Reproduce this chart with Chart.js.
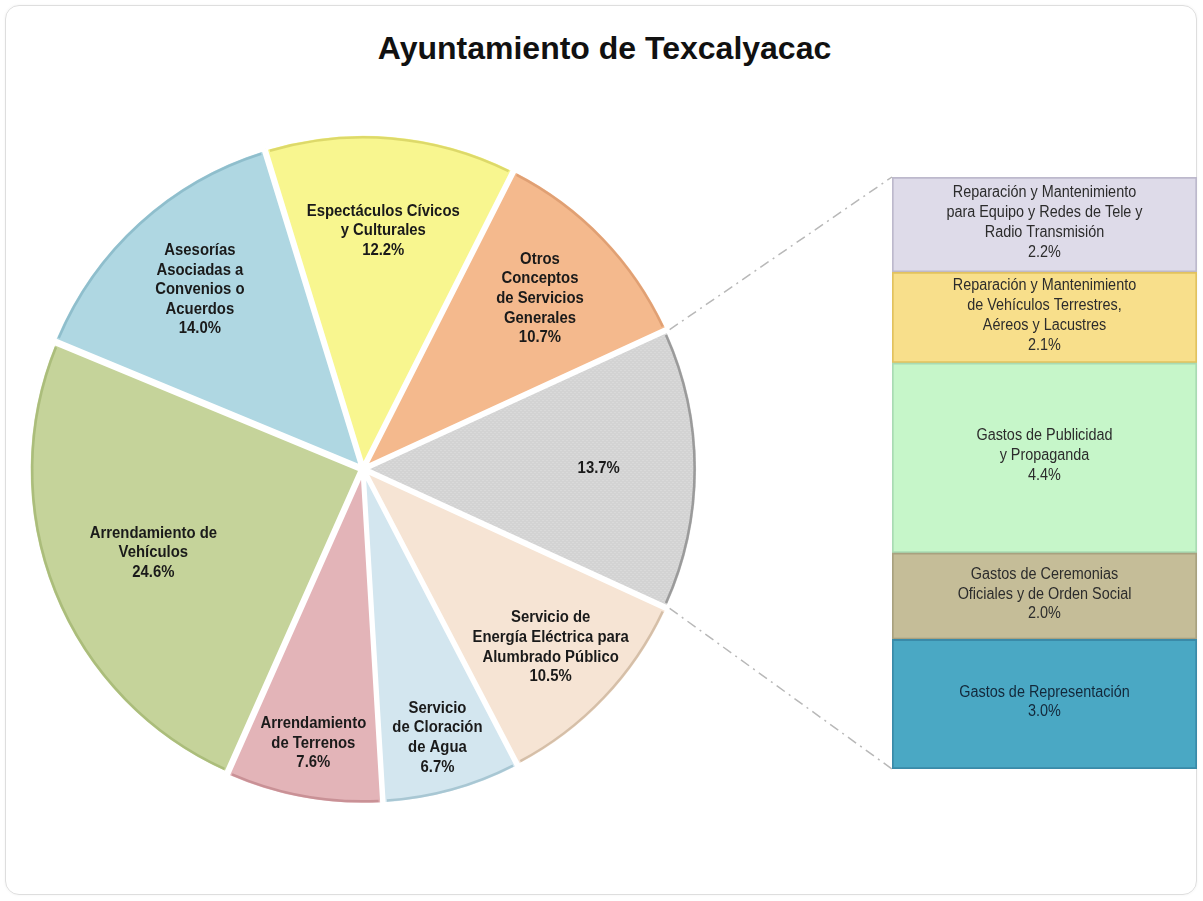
<!DOCTYPE html>
<html>
<head>
<meta charset="utf-8">
<script src="https://cdn.jsdelivr.net/npm/chart.js@4/dist/chart.umd.min.js"></script>
<style>
  html, body { margin:0; padding:0; background:#fff; width:1203px; height:901px; overflow:hidden; }
  #frame { position:absolute; left:5px; top:5px; width:1190px; height:888px; border:1px solid #dedede; border-radius:14px; box-shadow:0 0 3px rgba(0,0,0,0.05); }
  #title { position:absolute; left:0; top:30px; width:1209px; text-align:center; font-family:'Liberation Sans', Arial, sans-serif; font-weight:bold; font-size:32px; color:#111; }
  #pieWrap { position:absolute; left:0; top:0; width:1203px; height:901px; }
  #barWrap { position:absolute; left:892px; top:177px; width:305px; height:592px; }
  #overlay { position:absolute; left:0; top:0; width:1203px; height:901px; pointer-events:none; }
</style>
</head>
<body>
<div id="frame"></div>
<div id="title">Ayuntamiento de Texcalyacac</div>
<div id="pieWrap"><canvas id="pie"></canvas></div>
<div id="barWrap"><canvas id="bar"></canvas></div>
<canvas id="overlay" width="1203" height="901"></canvas>
<script>
// ---------------- DATA ----------------
const pieNames = [
  [],
  ['Servicio de', 'Energía Eléctrica para', 'Alumbrado Público'],
  ['Servicio', 'de Cloración', 'de Agua'],
  ['Arrendamiento', 'de Terrenos'],
  ['Arrendamiento de', 'Vehículos'],
  ['Asesorías', 'Asociadas a', 'Convenios o', 'Acuerdos'],
  ['Espectáculos Cívicos', 'y Culturales'],
  ['Otros', 'Conceptos', 'de Servicios', 'Generales']
];
const pieValues = [13.7, 10.5, 6.7, 7.6, 24.6, 14.0, 12.2, 10.7];

// bar of pie: listed from top to bottom
const barNames = [
  ['Reparación y Mantenimiento', 'para Equipo y Redes de Tele y', 'Radio Transmisión'],
  ['Reparación y Mantenimiento', 'de Vehículos Terrestres,', 'Aéreos y Lacustres'],
  ['Gastos de Publicidad', 'y Propaganda'],
  ['Gastos de Ceremonias', 'Oficiales y de Orden Social'],
  ['Gastos de Representación']
];
const barValues = [2.2, 2.1, 4.4, 2.0, 3.0];

// ---------------- STYLE ----------------
const pieColors = ['#d5d5d5', '#f6e4d4', '#d3e6ef', '#e3b4b8', '#c5d39a', '#afd7e2', '#f8f68f', '#f4b98d'];
const pieRims   = ['rgba(140,140,140,0.8)', 'rgba(200,175,150,0.7)', 'rgba(150,185,200,0.7)', 'rgba(190,130,135,0.7)',
                   'rgba(160,180,110,0.7)', 'rgba(130,180,195,0.7)', 'rgba(210,205,90,0.7)', 'rgba(215,150,105,0.7)'];
const labelFrac = [0.71, 0.78, 0.84, 0.84, 0.68, 0.73, 0.72, 0.74];
const barColors = ['#dedbe9', '#f8df8b', '#c6f6c9', '#c5bd98', '#4aa8c4'];
const barBorders = ['#bdb9cc', '#e2c25e', '#a9dbb3', '#a8a17f', '#3a8aa8'];
const barTextColors = ['#2c2c2c', '#2c2c2c', '#2c2c2c', '#2c2c2c', '#13283a'];
const sans = "'Liberation Sans', Arial, sans-serif";

function dotPattern(base, dot) {
  const c = document.createElement('canvas');
  c.width = 4; c.height = 4;
  const g = c.getContext('2d');
  g.fillStyle = base; g.fillRect(0, 0, 4, 4);
  g.fillStyle = dot; g.fillRect(0, 0, 1, 1); g.fillRect(2, 2, 1, 1);
  return g.createPattern(c, 'repeat');
}
const pieFill = pieColors.map((c, i) => i === 0 ? dotPattern('#d3d3d3', '#e2e2e2') : c);

const OFFSET = 10;
function arcShift(el) {
  const off = OFFSET / 4;
  const circ = el.endAngle - el.startAngle;
  const fix = 1 - Math.sin(Math.min(Math.PI, circ));
  return off * (1 + fix);
}

function drawCondensed(ctx, text, x, y, sx) {
  ctx.save();
  ctx.translate(x, y);
  ctx.scale(sx, 1);
  ctx.fillText(text, 0, 0);
  ctx.restore();
}

const rimPlugin = {
  id: 'rim',
  afterDatasetsDraw(chart) {
    const ctx = chart.ctx;
    chart.getDatasetMeta(0).data.forEach((el, i) => {
      const mid = (el.startAngle + el.endAngle) / 2;
      const s = arcShift(el);
      const cx = el.x + Math.cos(mid) * s, cy = el.y + Math.sin(mid) * s;
      ctx.save();
      ctx.strokeStyle = pieRims[i];
      ctx.lineWidth = 2.5;
      ctx.beginPath();
      ctx.arc(cx, cy, el.outerRadius - 3.5, el.startAngle + 0.01, el.endAngle - 0.01);
      ctx.stroke();
      ctx.restore();
    });
  }
};

const pieLabelPlugin = {
  id: 'pieLabels',
  afterDatasetsDraw(chart) {
    const ctx = chart.ctx;
    ctx.save();
    ctx.font = 'bold 16px ' + sans;
    ctx.fillStyle = '#1a1a1a';
    ctx.textAlign = 'center';
    ctx.textBaseline = 'middle';
    chart.getDatasetMeta(0).data.forEach((el, i) => {
      const mid = (el.startAngle + el.endAngle) / 2;
      const r = el.outerRadius * labelFrac[i];
      const x = el.x + Math.cos(mid) * r;
      const y = el.y + Math.sin(mid) * r;
      const lines = pieNames[i].concat([pieValues[i].toFixed(1) + '%']);
      const lh = 19.6;
      const y0 = y - (lines.length - 1) * lh / 2;
      lines.forEach((t, k) => drawCondensed(ctx, t, x, y0 + k * lh, 0.93));
    });
    ctx.restore();
  }
};

const pieChart = new Chart(document.getElementById('pie'), {
  type: 'pie',
  data: {
    labels: pieNames.map(n => n.join(' ')),
    datasets: [{
      data: pieValues,
      backgroundColor: pieFill,
      borderColor: '#ffffff',
      borderWidth: 4,
      offset: OFFSET
    }]
  },
  options: {
    responsive: true,
    maintainAspectRatio: false,
    animation: false,
    radius: 332,
    rotation: 90 - pieValues[0] * 3.6 / 2,
    layout: { padding: { left: 0, right: 1203 - 726, top: 2 * 469 - 901, bottom: 0 } },
    plugins: { legend: { display: false }, tooltip: { enabled: false }, title: { display: false } },
    events: []
  },
  plugins: [rimPlugin, pieLabelPlugin]
});

// stacked bar: datasets from bottom to top
const order = barValues.map((v, i) => i).reverse();
const barLabelPlugin = {
  id: 'barLabels',
  afterDatasetsDraw(chart) {
    const ctx = chart.ctx;
    ctx.save();
    ctx.font = '16px ' + sans;
    ctx.textAlign = 'center';
    ctx.textBaseline = 'middle';
    chart.data.datasets.forEach((ds, d) => {
      const el = chart.getDatasetMeta(d).data[0];
      const i = order[d];
      const cy = (el.y + el.base) / 2;
      const lines = barNames[i].concat([barValues[i].toFixed(1) + '%']);
      const lh = 19.8;
      const y0 = cy - (lines.length - 1) * lh / 2 - 2;
      ctx.fillStyle = barTextColors[i];
      lines.forEach((t, k) => drawCondensed(ctx, t, el.x, y0 + k * lh, 0.9));
    });
    ctx.restore();
  }
};

const barChart = new Chart(document.getElementById('bar'), {
  type: 'bar',
  data: {
    labels: [''],
    datasets: order.map(i => ({
      label: barNames[i].join(' '),
      data: [barValues[i]],
      backgroundColor: barColors[i],
      borderColor: barBorders[i],
      borderWidth: 2,
      borderSkipped: false,
      barPercentage: 1,
      categoryPercentage: 1
    }))
  },
  options: {
    responsive: true,
    maintainAspectRatio: false,
    animation: false,
    layout: { padding: 0 },
    scales: {
      x: { stacked: true, display: false },
      y: { stacked: true, display: false, min: 0, max: barValues.reduce((a, b) => a + b, 0) }
    },
    plugins: { legend: { display: false }, tooltip: { enabled: false } },
    events: []
  },
  plugins: [barLabelPlugin]
});

function drawConnectors() {
  const ov = document.getElementById('overlay').getContext('2d');
  ov.clearRect(0, 0, 1203, 901);
  const el = pieChart.getDatasetMeta(0).data[0];
  const pr = document.getElementById('pie').getBoundingClientRect();
  const br = document.getElementById('bar').getBoundingClientRect();
  const mid = (el.startAngle + el.endAngle) / 2;
  const s = arcShift(el);
  const cx = pr.left + el.x + Math.cos(mid) * s, cy = pr.top + el.y + Math.sin(mid) * s;
  const R = el.outerRadius + 2;
  const p1 = [cx + Math.cos(el.startAngle) * R, cy + Math.sin(el.startAngle) * R];
  const p2 = [cx + Math.cos(el.endAngle) * R, cy + Math.sin(el.endAngle) * R];
  const ca = barChart.chartArea;
  const top = barChart.getDatasetMeta(barChart.data.datasets.length - 1).data[0];
  const bot = barChart.getDatasetMeta(0).data[0];
  const bx = br.left + ca.left;
  const q1 = [bx, br.top + top.y];
  const q2 = [bx, br.top + bot.base];
  ov.save();
  ov.strokeStyle = '#b8b8b8';
  ov.lineWidth = 1.5;
  ov.setLineDash([10, 5, 2, 5]);
  ov.beginPath(); ov.moveTo(p1[0], p1[1]); ov.lineTo(q1[0], q1[1]); ov.stroke();
  ov.beginPath(); ov.moveTo(p2[0], p2[1]); ov.lineTo(q2[0], q2[1]); ov.stroke();
  ov.restore();
}
drawConnectors();
</script>
</body>
</html>
